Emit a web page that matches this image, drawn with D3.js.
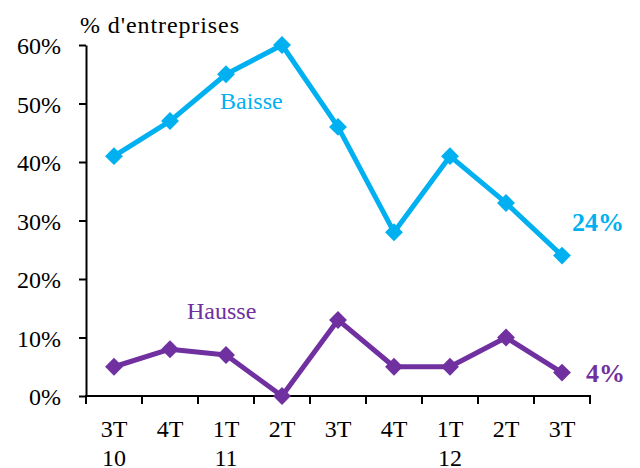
<!DOCTYPE html>
<html>
<head>
<meta charset="utf-8">
<script src="https://cdn.jsdelivr.net/npm/d3@7"></script>
<style>
body { margin: 0; background: #fff; }
svg text { font-family: "Liberation Serif", "Times New Roman", serif; }
</style>
</head>
<body>
<svg width="640" height="468"></svg>
<script>
var quarters = ["3T", "4T", "1T", "2T", "3T", "4T", "1T", "2T", "3T"]
var years = ["10", "", "11", "", "", "", "12", "", ""]
var baisse = [41, 47, 55, 60, 46, 28, 41, 33, 24]
var hausse = [5, 8, 7, 0, 13, 5, 5, 10, 4]
var yTicks = [0, 10, 20, 30, 40, 50, 60]

const BLUE = "#00B0F0"
const PURPLE = "#7030A0"
const FONT = "Liberation Serif, Times New Roman, serif"

const svg = d3.select("svg")
const idx = quarters.map((q, i) => i)

const x = d3.scaleBand().domain(idx).range([86, 590])
const y = d3.scaleLinear().domain([0, 60]).range([396, 45])

// y axis
svg.append("g")
    .attr("transform", "translate(86,0)")
    .attr("font-family", FONT)
    .call(d3.axisLeft(y).tickValues(yTicks).tickFormat(d => d + "%").tickSize(7).tickSizeOuter(0))
    .call(g => g.selectAll("line,path").attr("stroke", "#000").attr("stroke-width", 2))
    .call(g => g.selectAll("text").attr("font-size", 24).attr("fill", "#000").attr("x", -25).attr("dy", "0.36em"))

// x axis, ticks between categories
const xg = svg.append("g").attr("transform", "translate(0,396)")
xg.append("line").attr("x1", 85).attr("x2", 591).attr("stroke", "#000").attr("stroke-width", 2)
xg.selectAll(".tk").data(idx.concat([idx.length])).enter().append("line")
    .attr("x1", d => d < idx.length ? x(d) : x.range()[1])
    .attr("x2", d => d < idx.length ? x(d) : x.range()[1])
    .attr("y1", 0).attr("y2", 8)
    .attr("stroke", "#000").attr("stroke-width", 2)
xg.selectAll(".q").data(idx).enter().append("text")
    .attr("x", d => x(d) + x.bandwidth() / 2).attr("y", 41)
    .attr("text-anchor", "middle").attr("font-size", 24).text(d => quarters[d])
xg.selectAll(".yr").data(idx).enter().append("text")
    .attr("x", d => x(d) + x.bandwidth() / 2).attr("y", 70)
    .attr("text-anchor", "middle").attr("font-size", 24).text(d => years[d])

svg.append("text").attr("x", 80).attr("y", 33).attr("font-size", 24)
    .attr("textLength", 159).text("% d'entreprises")

function drawSeries(vals, color) {
    const cx = i => x(i) + x.bandwidth() / 2
    const line = d3.line().x((d, i) => cx(i)).y(d => y(d))
    svg.append("path").datum(vals).attr("d", line)
        .attr("fill", "none").attr("stroke", color).attr("stroke-width", 5)
        .attr("stroke-linejoin", "round")
    svg.selectAll(null).data(vals).enter().append("path")
        .attr("d", d3.symbol(d3.symbolSquare, 160))
        .attr("transform", (d, i) => `translate(${cx(i)},${y(d)}) rotate(45)`)
        .attr("fill", color)
}
drawSeries(baisse, BLUE)
drawSeries(hausse, PURPLE)

svg.append("text").attr("x", 220).attr("y", 109).attr("font-size", 24).attr("fill", BLUE).text("Baisse")
svg.append("text").attr("x", 187).attr("y", 319).attr("font-size", 24).attr("fill", PURPLE).text("Hausse")
svg.append("text").attr("x", 572).attr("y", 231).attr("font-size", 26).attr("font-weight", "bold")
    .attr("fill", BLUE).text(baisse[baisse.length - 1] + "%")
svg.append("text").attr("x", 586).attr("y", 382).attr("font-size", 26).attr("font-weight", "bold")
    .attr("fill", PURPLE).text(hausse[hausse.length - 1] + "%")
</script>
</body>
</html>
